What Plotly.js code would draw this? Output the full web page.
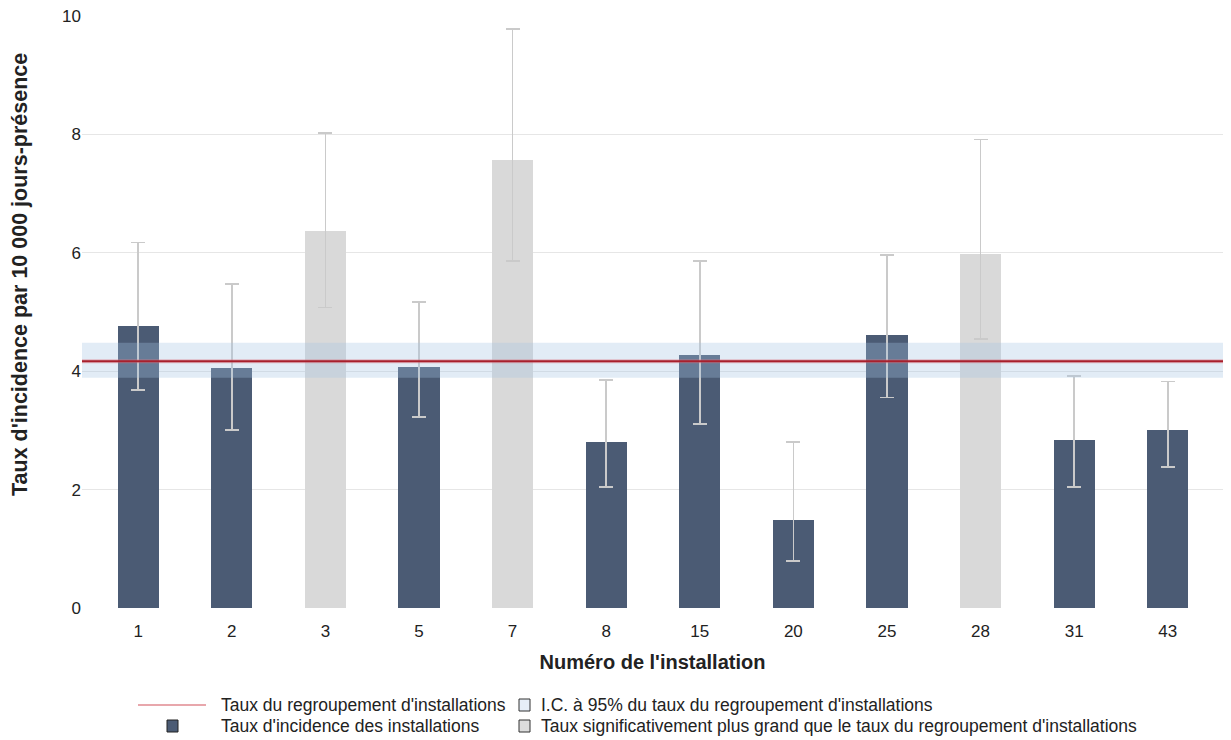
<!DOCTYPE html>
<html><head><meta charset="utf-8">
<script src="https://cdn.plot.ly/plotly-3.0.1.min.js"></script>
<style>html,body{margin:0;padding:0;background:#fff}#chart{width:1231px;height:740px}</style>
</head><body><div id="chart"></div>
<script>
const installations = ['1','2','3','5','7','8','15','20','25','28','31','43'];
const rates = [4.76, 4.05, 6.37, 4.07, 7.57, 2.80, 4.27, 1.49, 4.61, 5.98, 2.84, 3.01];
const ciLower = [3.68, 3.01, 5.08, 3.23, 5.86, 2.04, 3.11, 0.79, 3.56, 4.54, 2.04, 2.38];
const ciUpper = [6.17, 5.47, 8.02, 5.17, 9.78, 3.85, 5.86, 2.80, 5.96, 7.91, 3.92, 3.83];
const significant = [false, false, true, false, true, false, false, false, false, true, false, false];
const groupRate = 4.17;
const groupCI = [3.89, 4.48];
const yTitle = "Taux d'incidence par 10 000 jours-présence";
const xTitle = "Numéro de l'installation";
const legendLabels = [
  "Taux du regroupement d'installations",
  "I.C. à 95% du taux du regroupement d'installations",
  "Taux d'incidence des installations",
  "Taux significativement plus grand que le taux du regroupement d'installations"
];

const DARK = '#4b5b74', GREY = '#d9d9d9';
const plotL = 82, plotR = 1223, plotT = 16, plotB = 608;
const px = x => (x - plotL) / (plotR - plotL);
const py = y => (plotB - y) / (plotB - plotT);

const trace = {
  type: 'bar', x: installations, y: rates, width: 0.44,
  marker: {color: significant.map(s => s ? GREY : DARK)},
  error_y: {type: 'data', symmetric: false,
    array: rates.map((r, i) => ciUpper[i] - r),
    arrayminus: rates.map((r, i) => r - ciLower[i]),
    color: '#cacaca', thickness: 1.5, width: 7},
  showlegend: false, hoverinfo: 'skip'
};

const font = {family: 'Liberation Sans, Arial, sans-serif', color: '#222'};
const shapes = [
  {type: 'rect', xref: 'paper', yref: 'y', x0: 0, x1: 1, y0: groupCI[0], y1: groupCI[1],
   fillcolor: 'rgba(165,195,228,0.32)', line: {width: 0}, layer: 'above'},
  {type: 'line', xref: 'paper', yref: 'y', x0: 0, x1: 1, y0: groupRate, y1: groupRate,
   line: {color: 'rgba(220,120,130,0.45)', width: 4}, layer: 'above'},
  {type: 'line', xref: 'paper', yref: 'y', x0: 0, x1: 1, y0: groupRate, y1: groupRate,
   line: {color: '#a8202c', width: 2}, layer: 'above'},
  // legend symbols
  {type: 'line', xref: 'paper', yref: 'paper', x0: px(138), x1: px(206), y0: py(705), y1: py(705),
   line: {color: '#e08a90', width: 1.5}},
  {type: 'rect', xref: 'paper', yref: 'paper', x0: px(519), x1: px(530), y0: py(711), y1: py(699),
   fillcolor: '#e6eef7', line: {color: '#333', width: 1}},
  {type: 'rect', xref: 'paper', yref: 'paper', x0: px(167), x1: px(178), y0: py(732), y1: py(720),
   fillcolor: DARK, line: {color: '#222', width: 1}},
  {type: 'rect', xref: 'paper', yref: 'paper', x0: px(519), x1: px(530), y0: py(732), y1: py(720),
   fillcolor: '#dcdcdc', line: {color: '#333', width: 1}}
];
const legPos = [[219, 705], [539, 705], [219, 726], [539, 726]];
const annotations = legendLabels.map((t, i) => ({
  xref: 'paper', yref: 'paper', x: px(legPos[i][0]), y: py(legPos[i][1]),
  xanchor: 'left', yanchor: 'middle', text: t, showarrow: false,
  font: Object.assign({size: 17.5}, font)
}));
annotations.push({
  xref: 'paper', yref: 'paper', x: px(20), y: py(275), xanchor: 'center', yanchor: 'middle',
  textangle: -90, text: '<b>' + yTitle + '</b>', showarrow: false,
  font: Object.assign({size: 21.5}, font)
});

const layout = {
  width: 1231, height: 740,
  margin: {l: plotL, r: 1231 - plotR, t: plotT, b: 740 - plotB},
  paper_bgcolor: '#fff', plot_bgcolor: '#fff',
  font: font,
  xaxis: {type: 'category', range: [-0.6, 11.59], showgrid: false, zeroline: false,
    showline: false, ticks: 'outside', ticklen: 8, tickcolor: 'rgba(0,0,0,0)',
    tickfont: Object.assign({size: 17}, font),
    title: {text: '<b>' + xTitle + '</b>', font: Object.assign({size: 20}, font), standoff: 14}},
  yaxis: {range: [0, 10], dtick: 2, showgrid: true, gridcolor: '#e6e6e6', gridwidth: 1,
    zeroline: false, showline: false, ticks: '', tickfont: Object.assign({size: 17}, font)},
  shapes: shapes, annotations: annotations, showlegend: false, bargap: 0
};
Plotly.newPlot('chart', [trace], layout, {displayModeBar: false, staticPlot: true});
</script></body></html>
